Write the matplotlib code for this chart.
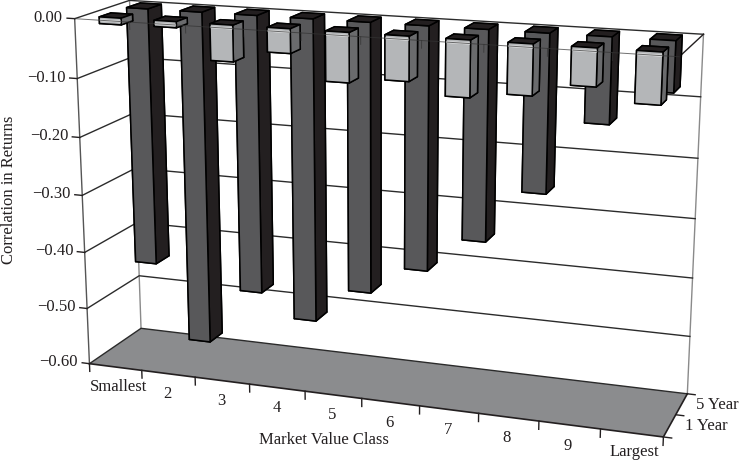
import numpy as np
import matplotlib
matplotlib.use("Agg")
import matplotlib.pyplot as plt
from mpl_toolkits.mplot3d import proj3d

plt.rcParams['font.family'] = ['Liberation Serif', 'DejaVu Serif']

categories = ['Smallest', '2', '3', '4', '5', '6', '7', '8', '9', 'Largest']
series_names = ['1 Year', '5 Year']
one_year = [-0.011, -0.010, -0.060, -0.040, -0.081, -0.072, -0.091, -0.081, -0.060, -0.081]
five_year = [-0.450, -0.583, -0.482, -0.522, -0.461, -0.412, -0.352, -0.262, -0.140, -0.082]
z_ticks = [0.0, -0.1, -0.2, -0.3, -0.4, -0.5, -0.6]

W, H = 742, 461
n = len(categories)
z_min = z_ticks[-1]
bar_w = 0.40
bar_d = 0.42
ink = '#231f20'

# colours per face: -z, +z, -y, +y, -x, +x
light_faces = [ink, ink, '#b4b6b8', '#b4b6b8', '#6a6b6d', '#6a6b6d']
dark_faces = [ink, ink, '#58585a', '#58585a', ink, ink]
strip_faces = [ink, ink, '#dfe0e1', '#dfe0e1', '#6a6b6d', '#6a6b6d']

fig = plt.figure(figsize=(W/100, H/100), dpi=100)
s = 0.940
ax = fig.add_axes([0.502-s/2, 0.531-s*W/H/2, s, s*W/H], projection='3d', computed_zorder=False)
ax.view_init(elev=15.299, azim=-70.568)
ax.set_proj_type('persp', focal_length=0.507)
ax.set_box_aspect((1, 0.199, 0.601))
ax.set_axis_off()
ax.set_xlim(0, n); ax.set_ylim(0, 2); ax.set_zlim(z_min, 0)


def label(x, y, z, txt, **kw):
    # flat text placed at a 3d position
    px, py, _ = proj3d.proj_transform(x, y, z, ax.get_proj())
    ax.text2D(px, py, txt, transform=ax.transData, fontsize=12, color=ink, va='center', **kw)


# floor
xf, yf = np.meshgrid([0, n], [0, 2])
ax.plot_surface(xf, yf, np.full_like(xf, z_min, dtype=float), color='#8b8c8e', shade=False,
                linewidth=0, zorder=1)

# walls
wall = '#8a8a8a'
ax.plot([0, 0], [0, 0], [0, z_min], color='#555555', lw=1.0, zorder=2)
ax.plot([0, 0], [2, 2], [0, z_min], color=wall, lw=1.0, zorder=2)
ax.plot([n, n], [2, 2], [0, z_min], color=wall, lw=1.0, zorder=2)

# grid lines on left and back wall
for z in z_ticks:
    ax.plot([0, 0, n], [0, 2, 2], [z, z, z], color='#2b2b2b', lw=1.0, zorder=3)

# axis edges on the floor and at zero
ax.plot([0, n, n], [0, 0, 2], [z_min]*3, color=ink, lw=1.2, zorder=4)
ax.plot([n, n], [0, 2], [0, 0], color=ink, lw=1.0, zorder=4)

# bars, back row first, left to right
zo = 10
for i, v in enumerate(five_year):
    ax.bar3d(i+0.5-bar_w/2, 1.5-bar_d/2, 0, bar_w, bar_d+0.1, v, color=dark_faces, shade=False,
             edgecolor='k', linewidth=1.1, zorder=zo)
    zo += 1
for i, v in enumerate(one_year):
    ax.bar3d(i+0.5-bar_w/2, 0.5-bar_d/2, 0, bar_w, bar_d, v, color=light_faces, shade=False,
             edgecolor='k', linewidth=1.1, zorder=zo)
    zo += 1
    # pale strip under the top edge of the front face
    ax.bar3d(i+0.5-bar_w/2+0.01, 0.5-bar_d/2, -0.004, bar_w-0.02, 0.001, -0.003, color=strip_faces,
             shade=False, linewidth=0, zorder=zo)
    zo += 1

# front line at zero with its small ticks runs over the bars
ax.plot([0, n], [0, 0], [0, 0], color='#333333', lw=0.7, alpha=0.7, zorder=zo)
for i in range(1, n):
    ax.plot([i, i], [0, 0], [0, -0.012], color='#333333', lw=0.7, alpha=0.7, zorder=zo)

# value axis ticks and labels
for z in z_ticks:
    ax.plot([-0.14, 0], [0, 0], [z, z], color=ink, lw=1.0, zorder=5)
    label(-0.22, 0, z, '0.00' if z == 0 else f"{z:.2f}".replace('-', '\u2212'), ha='right')

# category ticks and labels
for i in range(n+1):
    ax.plot([i, i], [0, 0], [z_min, z_min-0.014], color=ink, lw=1.0, zorder=5)
for i, c in enumerate(categories):
    shift = 0.05 if len(c) > 1 else -0.02
    drop = 0.031 if c == 'Largest' else 0.036
    label(i+0.5+shift, 0, z_min-drop, c, ha='center')

# depth ticks and labels
for d in (0, 1, 2):
    ax.plot([n, n+0.13], [d, d], [z_min, z_min], color=ink, lw=1.0, zorder=5)
for d, c in zip((1, 2), series_names):
    label(n+0.15, d, z_min-0.017, c, ha='left')

fig.text(9/W, 1-190/H, 'Correlation in Returns', rotation=90, ha='center', va='center',
         fontsize=12, color=ink)
fig.text(324/W, 1-440/H, 'Market Value Class', ha='center', va='center', fontsize=12, color=ink)

fig.savefig("out.png", dpi=100)
